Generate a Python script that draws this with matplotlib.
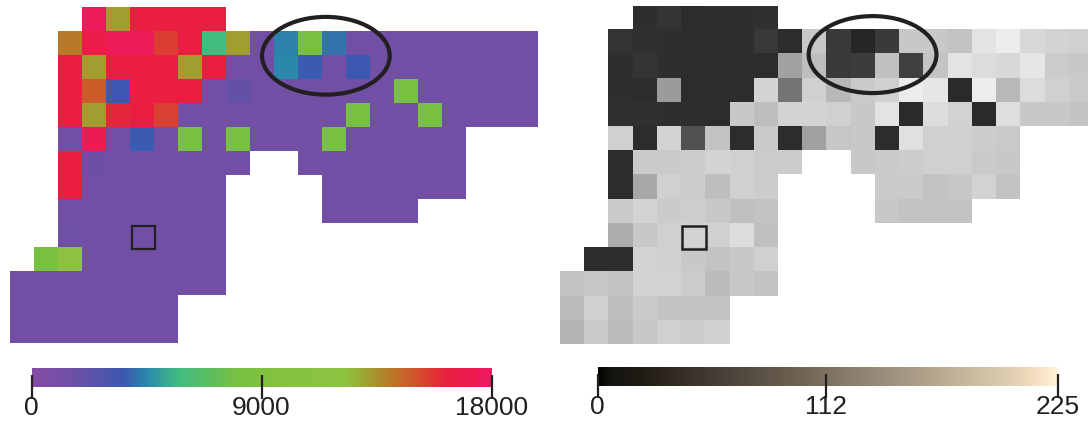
import numpy as np
import matplotlib
matplotlib.use("Agg")
import matplotlib.pyplot as plt
from matplotlib.colors import LinearSegmentedColormap, Normalize
from matplotlib.cm import ScalarMappable
from matplotlib.patches import Ellipse, Rectangle

plt.rcParams["font.family"] = ["Liberation Sans", "DejaVu Sans"]

N = np.nan

# Intensity map (counts), 14 rows x 22 columns, NaN = outside the sample
intensity = [
    [N, N, N, 17600, 13200, 16400, 16400, 16400, 16400, N, N, N, N, N, N, N, N, N, N, N, N, N],
    [N, N, 14000, 16800, 17600, 17600, 15500, 16400, 5800, 13200, 1400, 4400, 8200, 4100, 1400, 1400, 1400, 1400, 1400, 1400, 1400, 1400],
    [N, N, 16400, 13200, 16400, 16400, 16400, 13200, 16400, 1400, 1400, 4500, 3700, 1400, 3600, 1400, 1400, 1400, 1400, 1400, 1400, 1400],
    [N, N, 16400, 14800, 3600, 16400, 16400, 16400, 1400, 2000, 1400, 1400, 1400, 1400, 1400, 1400, 8200, 1400, 1400, 1400, 1400, 1400],
    [N, N, 16400, 13200, 16000, 16400, 15400, 1400, 1400, 1400, 1400, 1400, 1400, 1400, 8200, 1400, 1400, 8200, 1400, 1400, 1400, 1400],
    [N, N, 1400, 17400, 1400, 3700, 1400, 8200, 1400, 8200, 1400, 1400, 1400, 8200, 1400, 1400, 1400, 1400, 1400, N, N, N],
    [N, N, 16400, 1600, 1400, 1400, 1400, 1400, 1400, 1400, N, N, 1400, 1400, 1400, 1400, 1400, 1400, 1400, N, N, N],
    [N, N, 16400, 1400, 1400, 1400, 1400, 1400, 1400, N, N, N, N, 1400, 1400, 1400, 1400, 1400, 1400, N, N, N],
    [N, N, 1400, 1400, 1400, 1400, 1400, 1400, 1400, N, N, N, N, 1400, 1400, 1400, 1400, N, N, N, N, N],
    [N, N, 1500, 1400, 1400, 1400, 1400, 1400, 1400, N, N, N, N, N, N, N, N, N, N, N, N, N],
    [N, 8200, 12300, 1400, 1400, 1400, 1400, 1400, 1400, N, N, N, N, N, N, N, N, N, N, N, N, N],
    [1400, 1400, 1400, 1400, 1400, 1400, 1400, 1400, 1400, N, N, N, N, N, N, N, N, N, N, N, N, N],
    [1400, 1400, 1400, 1400, 1400, 1400, 1400, N, N, N, N, N, N, N, N, N, N, N, N, N, N, N],
    [1400, 1400, 1400, 1400, 1400, 1400, 1400, N, N, N, N, N, N, N, N, N, N, N, N, N, N, N],
]

# Grey-level map of the same region
grey = [
    [N, N, N, 46, 52, 44, 46, 46, 48, N, N, N, N, N, N, N, N, N, N, N, N, N],
    [N, N, 52, 48, 46, 44, 46, 46, 56, 44, 200, 58, 38, 58, 200, 200, 196, 228, 236, 216, 212, 208],
    [N, N, 46, 52, 46, 44, 44, 44, 44, 162, 190, 58, 60, 192, 64, 196, 228, 220, 216, 230, 204, 200],
    [N, N, 46, 44, 155, 44, 44, 44, 212, 116, 208, 184, 202, 208, 236, 230, 42, 236, 184, 220, 208, 202],
    [N, N, 48, 48, 46, 46, 44, 200, 190, 212, 212, 208, 200, 228, 42, 220, 210, 42, 222, 200, 200, 196],
    [N, N, 208, 44, 212, 80, 196, 44, 202, 44, 160, 198, 200, 44, 224, 208, 208, 204, 202, N, N, N],
    [N, N, 44, 202, 202, 204, 212, 208, 204, 204, N, N, 200, 202, 204, 208, 208, 202, 200, N, N, N],
    [N, N, 44, 168, 208, 204, 190, 208, 204, N, N, N, N, 202, 202, 196, 200, 210, 196, N, N, N],
    [N, N, 202, 212, 202, 206, 200, 192, 196, N, N, N, N, 200, 196, 196, 196, N, N, N, N, N],
    [N, N, 172, 200, 208, 212, 208, 220, 192, N, N, N, N, N, N, N, N, N, N, N, N, N],
    [N, 44, 44, 212, 208, 200, 196, 200, 208, N, N, N, N, N, N, N, N, N, N, N, N, N],
    [196, 200, 196, 212, 212, 204, 188, 200, 196, N, N, N, N, N, N, N, N, N, N, N, N, N],
    [188, 208, 190, 202, 196, 196, 196, N, N, N, N, N, N, N, N, N, N, N, N, N, N, N],
    [180, 202, 188, 200, 208, 204, 208, N, N, N, N, N, N, N, N, N, N, N, N, N, N, N],
]

left_ticks = [0, 9000, 18000]
right_ticks = [0, 112, 225]

# colour scales
rainbow = LinearSegmentedColormap.from_list("rainbow_map", [
    (0.00, "#854ba6"), (0.08, "#7050a5"), (0.20, "#3c58b0"), (0.25, "#2a88ac"),
    (0.32, "#40bc80"), (0.45, "#78c040"), (0.55, "#86c240"), (0.68, "#8cc440"),
    (0.73, "#a0a030"), (0.78, "#b87a28"), (0.84, "#d4502c"), (0.90, "#e8203c"),
    (0.96, "#ee1a50"), (1.00, "#ee1a62"),
])
rainbow.set_bad((1, 1, 1, 0))

greys = LinearSegmentedColormap.from_list("grey_map", ["#000000", "#ffffff"])
greys.set_bad((1, 1, 1, 0))

sepia = LinearSegmentedColormap.from_list("sepia", [
    (0.00, "#000000"), (0.03, "#151510"), (0.10, "#201c14"), (0.20, "#3a3228"),
    (0.30, "#4e463c"), (0.40, "#655a4c"), (0.50, "#7c7060"), (0.60, "#948878"),
    (0.70, "#ac9e88"), (0.80, "#c8b69c"), (0.90, "#e0ceb0"), (0.95, "#f4dcbe"),
    (1.00, "#fff4d8"),
])

W, H = 1088, 422
fig = plt.figure(figsize=(W / 100, H / 100), dpi=100)

ink = "#231f20"

def px_axes(x0, y0, x1, y1):
    return fig.add_axes([x0 / W, 1 - y1 / H, (x1 - x0) / W, (y1 - y0) / H])

# ── left map ──────────────────────────────────────────────
ax_l = px_axes(10.3, 7.3, 10.3 + 22 * 24, 7.3 + 14 * 24)
ax_l.imshow(np.array(intensity), cmap=rainbow, vmin=0, vmax=18000,
            extent=[0, 22, 14, 0], aspect="auto", interpolation="nearest")
ax_l.set_xlim(0, 22)
ax_l.set_ylim(14, 0)
ax_l.axis("off")
ax_l.add_patch(Ellipse((13.15, 2.02), 5.32, 3.24, fill=False, ec=ink, lw=3.0))
ax_l.add_patch(Rectangle((5.05, 9.12), 0.96, 0.96, fill=False, ec=ink, lw=1.6))

# ── right map ─────────────────────────────────────────────
ax_r = px_axes(559.9, 5.7, 559.9 + 22 * 24.2, 5.7 + 14 * 24.2)
ax_r.imshow(np.array(grey), cmap=greys, vmin=0, vmax=255,
            extent=[0, 22, 14, 0], aspect="auto", interpolation="nearest")
ax_r.set_xlim(0, 22)
ax_r.set_ylim(14, 0)
ax_r.axis("off")
ax_r.add_patch(Ellipse((12.92, 2.02), 5.28, 3.18, fill=False, ec=ink, lw=3.0))
ax_r.add_patch(Rectangle((5.05, 9.11), 0.97, 0.95, fill=False, ec=ink, lw=1.8))

# ── colour bars ───────────────────────────────────────────
def colorbar(x0, y0, x1, y1, cmap, vmax, ticks):
    cax = px_axes(x0, y0, x1, y1)
    sm = ScalarMappable(norm=Normalize(0, vmax), cmap=cmap)
    cb = fig.colorbar(sm, cax=cax, orientation="horizontal")
    cb.outline.set_visible(False)
    cb.set_ticks(ticks)
    cb.set_ticklabels([str(t) for t in ticks])
    cax.tick_params(axis="x", direction="inout", length=17, width=1.6,
                    color=ink, labelcolor=ink, labelsize=19, pad=-2)
    return cb

colorbar(31.5, 368, 491.5, 387, rainbow, 18000, left_ticks)
colorbar(597.5, 367, 1057.5, 386, sepia, 225, right_ticks)

fig.savefig("out.png", dpi=100)
